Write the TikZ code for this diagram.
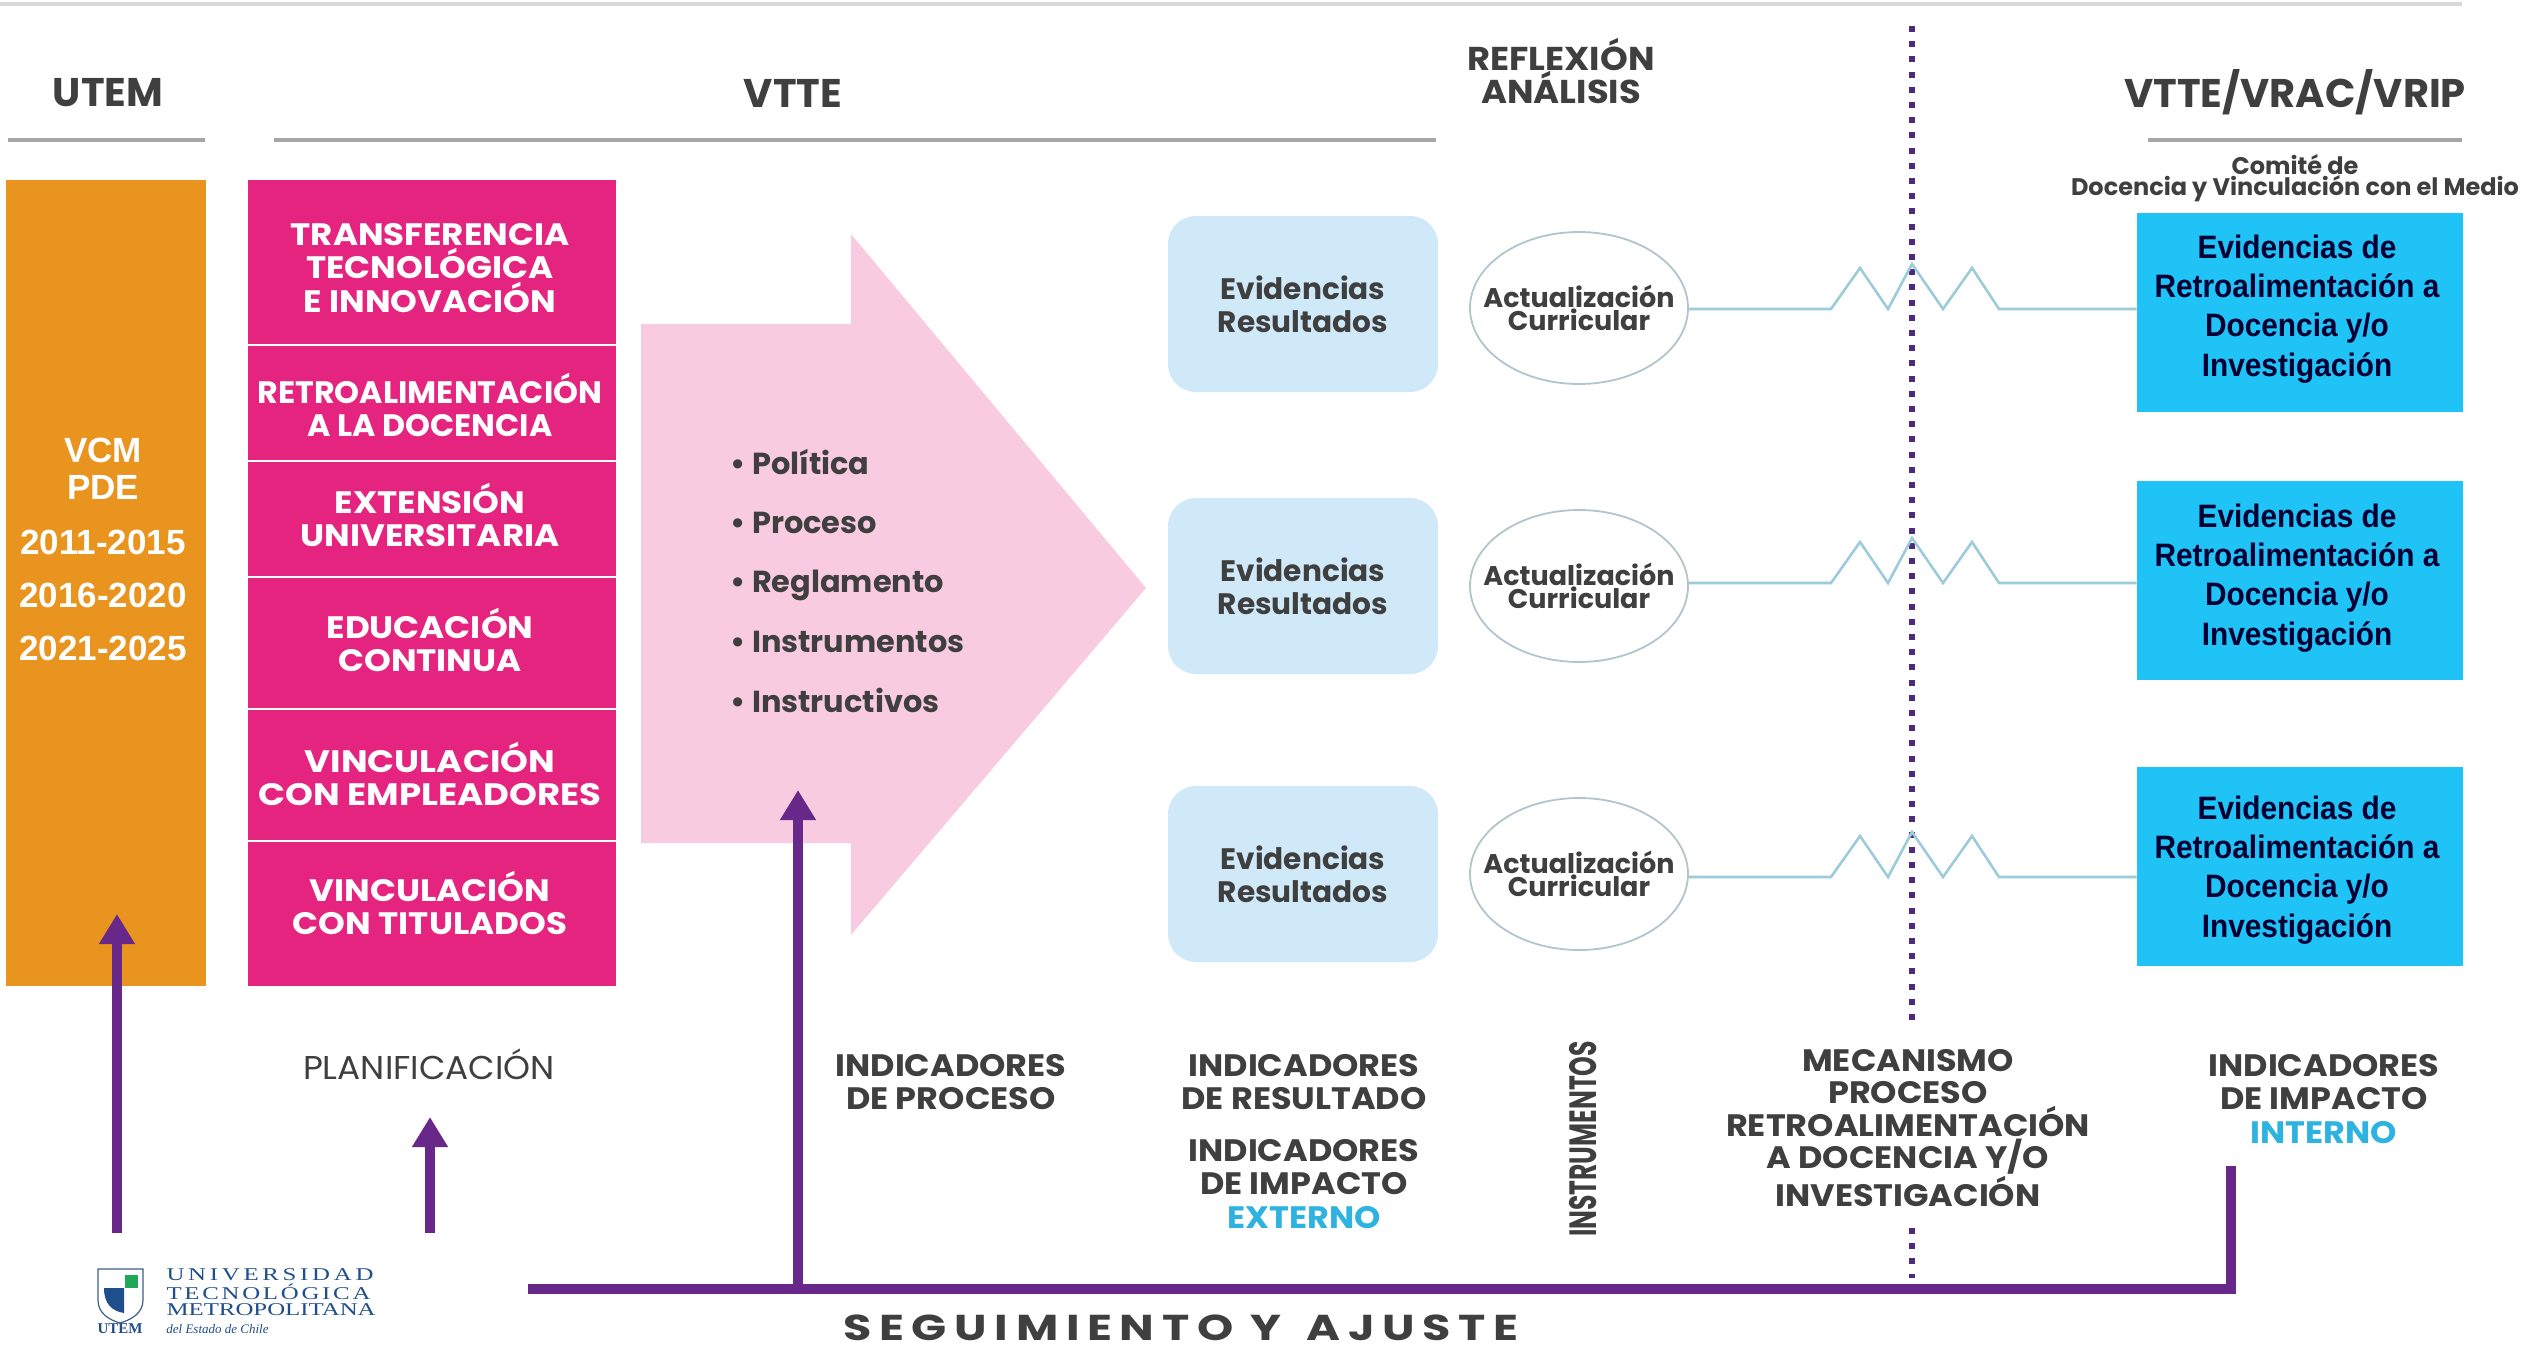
\documentclass[tikz,border=0pt]{standalone}
\usepackage{fontspec}
\setmainfont{Poppins}
\newfontfamily\arialf{Liberation Sans}
\newfontfamily\serifl{Liberation Serif}
\newfontfamily\seriflu[LetterSpace=15]{Liberation Serif}
\newfontfamily\serifle[LetterSpace=11]{Liberation Serif}
\usetikzlibrary{arrows.meta,shapes.geometric}
\definecolor{orangebox}{HTML}{E8941F}
\definecolor{pinkbox}{HTML}{E5247F}
\definecolor{pinkarrow}{HTML}{F9CBE1}
\definecolor{palebox}{HTML}{CFE9F8}
\definecolor{cyanbox}{HTML}{1FC3F5}
\definecolor{purpleline}{HTML}{68288A}
\definecolor{dottedc}{HTML}{4B2A80}
\definecolor{darktxt}{HTML}{3F3F3F}
\definecolor{rulegrey}{HTML}{A6A6A6}
\definecolor{linkc}{HTML}{9CCBDA}
\definecolor{bluetxt}{HTML}{2EB2E0}
\definecolor{utemblue}{HTML}{1F4E8C}
\definecolor{utemgreen}{HTML}{1FA85A}
\newcommand{\fs}[2]{\fontsize{#1}{#2}\selectfont}
\tikzset{
  lblbase/.style={inner sep=0pt,align=center,text=darktxt},
  lbl/.style={lblbase,xscale=1.08,font=\fs{15.5}{16.7}\bfseries},
  head/.style={lblbase,font=\fs{20}{18}\bfseries},
  pinktxt/.style={inner sep=0pt,align=center,text=white,xscale=1.1,font=\fs{15.5}{16.6}\bfseries},
  orangetxt/.style={inner sep=0pt,align=center,text=white,font=\arialf\fs{17.5}{17}\bfseries},
  listtxt/.style={inner sep=0pt,anchor=base west,text=darktxt,font=\fs{15.2}{16}\bfseries},
  evid/.style={rounded corners=14pt,fill=palebox,minimum width=135pt,minimum height=88pt,inner sep=0pt,align=center,text=darktxt,font=\fs{14.8}{16.5}\bfseries},
  actual/.style={ellipse,draw=linkc!60!gray!70,line width=.9pt,fill=white,minimum width=109pt,minimum height=76pt,inner xsep=-14pt,inner ysep=0pt,align=center,text=darktxt,font=\fs{13.5}{11.5}\bfseries},
  cyan/.style={fill=cyanbox,minimum width=163pt,minimum height=99.5pt,inner sep=0pt,align=center,text=black!85!blue},
  cyantxt/.style={inner sep=0pt,align=center,text=black!80!blue,xscale=.92,font=\arialf\fs{16.2}{19.6}\bfseries},
  rulel/.style={draw=rulegrey,line width=2pt},
  link/.style={draw=linkc,line width=1.3pt,line join=miter},
  purp/.style={draw=purpleline,line width=5pt},
  parrow/.style={purp,-{Triangle[width=17pt,length=15pt]}},
  seg/.style={white,line width=1.4pt},
  logot/.style={inner sep=0pt,anchor=west,text=utemblue,xscale=1.38},
}
\begin{document}
\begin{tikzpicture}[x=.5pt,y=-.5pt]
\useasboundingbox (0,0) rectangle (2527,1354);
% top and section rules
\coordinate (topa) at (0,4); \coordinate (topb) at (2462,4);
\draw[draw=black!15,line width=2pt] (topa) -- (topb);
\coordinate (r1a) at (8,140); \coordinate (r1b) at (205,140);
\coordinate (r2a) at (274,140); \coordinate (r2b) at (1436,140);
\coordinate (r3a) at (2148,140); \coordinate (r3b) at (2462,140);
\draw[rulel] (r1a)--(r1b); \draw[rulel] (r2a)--(r2b); \draw[rulel] (r3a)--(r3b);
% headers
\node[head] (hutem) at (108,93) {UTEM};
\node[head] (hvtte) at (793,93) {VTTE};
\node[lblbase,xscale=1.07,font=\fs{16.5}{16.7}\bfseries] (hrefl) at (1561,71) {REFLEXIÓN\\ANÁLISIS};
\node[head] (hvrac) at (2295,92) {VTTE/VRAC/VRIP};
\node[lblbase,font=\fs{12}{10.5}\bfseries] (hcom) at (2295,178) {Comité de\\Docencia y Vinculación con el Medio};
% dotted line
\coordinate (da) at (1912,26); \coordinate (db) at (1912,1026);
\coordinate (dc) at (1912,1228); \coordinate (dd) at (1912,1278);
\draw[dottedc,line width=2.6pt,dash pattern=on 3pt off 4.6pt] (da)--(db);
\draw[dottedc,line width=2.6pt,dash pattern=on 3pt off 4.6pt] (dc)--(dd);
% orange
\node[fill=orangebox,minimum width=100pt,minimum height=403pt,inner sep=0pt] (orange) at (106,583) {};
\node[orangetxt] (o1) at (103,469) {VCM\\[1.6pt]PDE};
\node[orangetxt] (o2) at (103,595) {2011-2015\\[9.5pt]2016-2020\\[9.5pt]2021-2025};
% pink
\node[fill=pinkbox,minimum width=184pt,minimum height=403pt,inner sep=0pt] (pink) at (432,583) {};
\coordinate (p1a) at (248,345); \coordinate (p1b) at (616,345);
\coordinate (p2a) at (248,461); \coordinate (p2b) at (616,461);
\coordinate (p3a) at (248,577); \coordinate (p3b) at (616,577);
\coordinate (p4a) at (248,709); \coordinate (p4b) at (616,709);
\coordinate (p5a) at (248,841); \coordinate (p5b) at (616,841);
\draw[seg] (p1a)--(p1b) (p2a)--(p2b) (p3a)--(p3b) (p4a)--(p4b) (p5a)--(p5b);
\node[pinktxt] (t1) at (430,268) {TRANSFERENCIA\\TECNOLÓGICA\\E INNOVACIÓN};
\node[pinktxt,xscale=.93] (t2) at (430,405) {RETROALIMENTACIÓN\\A LA DOCENCIA};
\node[pinktxt] (t3) at (430,515) {EXTENSIÓN\\UNIVERSITARIA};
\node[pinktxt] (t4) at (430,640) {EDUCACIÓN\\CONTINUA};
\node[pinktxt,xscale=1.04] (t5) at (430,774) {VINCULACIÓN\\CON EMPLEADORES};
\node[pinktxt] (t6) at (430,903) {VINCULACIÓN\\CON TITULADOS};
% big arrow
\fill[pinkarrow] (641,324) -- (851,324) -- (851,234) -- (1146,588) -- (851,935) -- (851,843) -- (641,843) -- cycle;
\node[listtxt] (l1) at (730,474) {• Política};
\node[listtxt] (l2) at (730,533) {• Proceso};
\node[listtxt] (l3) at (730,592) {• Reglamento};
\node[listtxt] (l4) at (730,652) {• Instrumentos};
\node[listtxt] (l5) at (730,712) {• Instructivos};
% rows
\foreach \n/\yb/\ye/\yc/\yt/\yl in {1/304/308/312/309/309,2/586/586/580/578/583,3/874/874/866/870/877}{
  \node[evid] (ev\n) at (1303,\yb) {Evidencias\\Resultados};
  \node[actual] (ac\n) at (1579,\ye) {Actualización\\Curricular};
  \node[cyan] (cy\n) at (2300,\yc) {};
  \node[cyantxt] (cyt\n) at (2297,\yt) {Evidencias de\\Retroalimentación a\\Docencia y/o\\Investigación};
  \coordinate (ls\n) at (ac\n.east|-0,\yl);
  \coordinate (le\n) at (cy\n.west|-0,\yl);
  \draw[link] (ls\n) -- (1831,\yl) -- ++(29,-41) -- ++(28,41) -- ++(24,-45) -- ++(31,45) -- ++(29,-41) -- ++(27,41) -- (le\n);
}
% bottom labels
\node[lblbase,xscale=1.04,font=\fs{16.5}{16}] (pl) at (429,1064) {PLANIFICACIÓN};
\node[lbl] (ip) at (951,1082) {INDICADORES\\DE PROCESO};
\node[lbl] (ir) at (1304,1082) {INDICADORES\\DE RESULTADO};
\node[lbl] (ie) at (1304,1184) {INDICADORES\\DE IMPACTO\\\textcolor{bluetxt}{EXTERNO}};
\node[lblbase,rotate=90,font=\fs{19}{15}\bfseries,xscale=.66] (ins) at (1583,1139) {INSTRUMENTOS};
\node[lbl,font=\fs{15.5}{16.2}\bfseries] (me) at (1908,1128) {MECANISMO\\PROCESO\\RETROALIMENTACIÓN\\A DOCENCIA Y/O\\INVESTIGACIÓN};
\node[lbl] (ii) at (2324,1099) {INDICADORES\\DE IMPACTO\\\textcolor{bluetxt}{INTERNO}};
% purple connectors
\coordinate (a1) at (117,1233); \coordinate (a1t) at (117,914);
\coordinate (a2) at (430,1233); \coordinate (a2t) at (430,1117);
\coordinate (a3t) at (798,790);
\coordinate (hl) at (528,1289); \coordinate (hm) at (798,1289);
\coordinate (hr) at (2231,1289); \coordinate (hu) at (2231,1166);
\draw[parrow] (a1) -- (a1t);
\draw[parrow] (a2) -- (a2t);
\draw[parrow] (hm) -- (a3t);
\draw[purp,line join=miter] (hl) -- (hr) -- (hu);
\node[lblbase,anchor=base,xscale=1.28,font=\fs{18}{18}\bfseries,text=darktxt] (seg) at (1181,1340) {S\,E\,G\,U\,I\,M\,I\,E\,N\,T\,O \,Y\, \,A\,J\,U\,S\,T\,E};
% logo
\draw[utemblue!70!gray,line width=.6pt,fill=white] (98,1269) -- (143,1269) -- (143,1300) .. controls (143,1314) and (130,1320) .. (120,1323) .. controls (110,1320) and (98,1314) .. (98,1300) -- cycle;
\fill[utemblue] (104,1288) -- (124,1288) -- (124,1313) .. controls (112,1311) and (104,1304) .. (104,1288) -- cycle;
\fill[utemgreen] (125,1275) rectangle (138,1288);
\node[inner sep=0pt,text=utemblue,font=\serifl\fs{7.5}{8}\bfseries] (lut) at (120,1329) {UTEM};
\node[logot,font=\seriflu\fs{9}{9}] (lu1) at (166,1275) {UNIVERSIDAD};
\node[logot,font=\serifle\fs{9}{9}] (lu2) at (166,1292) {TECNOLÓGICA};
\node[logot,font=\serifl\fs{9}{9}] (lu3) at (166,1310) {METROPOLITANA};
\node[inner sep=0pt,anchor=west,text=utemblue,font=\serifl\fs{6.5}{7}\itshape] (lu4) at (166,1329) {del Estado de Chile};
\end{tikzpicture}
\end{document}
